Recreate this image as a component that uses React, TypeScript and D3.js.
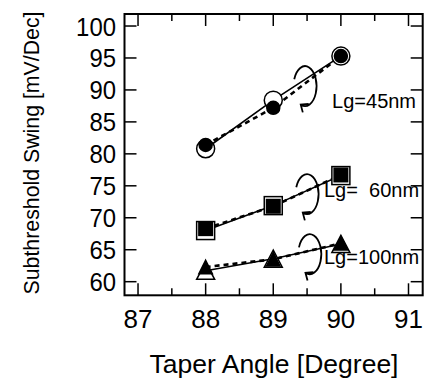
import React, { useEffect, useRef } from "react";
import * as d3 from "d3";

// taper angle [degree]
const angles = [88, 89, 90];

// subthreshold swing [mV/Dec], open = solid line, filled = dashed line
const ss45Open = [80.8, 88.4, 95.3];
const ss45Filled = [81.4, 87.2, 95.3];
const ss60Open = [68.0, 71.9, 76.6];
const ss60Filled = [68.3, 71.8, 76.7];
const ss100Open = [61.7, 63.6, 65.9];
const ss100Filled = [62.3, 63.5, 66.0];

const xTicks = [87, 88, 89, 90, 91];
const xMinorTicks = [87.5, 88.5, 89.5, 90.5];
const yTicks = [60, 65, 70, 75, 80, 85, 90, 95, 100];

const seriesLabels = ["Lg=45nm", "Lg=  60nm", "Lg=100nm"];
const seriesShapes = ["circle", "square", "triangle"];
// where the rotation arrows and labels sit, in data units
const loopAnchors = [
  [89.47, 90.6],
  [89.5, 73.7],
  [89.54, 64.3],
];
const labelAnchors = [
  [89.87, 87.2],
  [89.75, 73.2],
  [89.75, 62.8],
];

const FONT = "'Liberation Sans', Arial, Helvetica, sans-serif";

export default function App() {
  const ref = useRef<SVGSVGElement>(null);

  useEffect(() => {
    const svg = d3.select(ref.current);
    svg.selectAll("*").remove();

    const left = 124.5, right = 422.7, top = 14, bottom = 295.3;
    const x = d3.scaleLinear().domain([86.8, 91.21]).range([left, right]);
    const y = d3.scaleLinear().domain([57.87, 101.88]).range([bottom, top]);

    const g = svg.append("g");

    // frame
    g.append("rect")
      .attr("x", left).attr("y", top)
      .attr("width", right - left).attr("height", bottom - top)
      .attr("fill", "none").attr("stroke", "#000").attr("stroke-width", 2);

    // inward ticks
    const major = 12, minor = 7;
    xTicks.forEach((t) => {
      g.append("line").attr("x1", x(t)).attr("x2", x(t)).attr("y1", bottom).attr("y2", bottom - major)
        .attr("stroke", "#000").attr("stroke-width", 1.5);
      g.append("line").attr("x1", x(t)).attr("x2", x(t)).attr("y1", top).attr("y2", top + major)
        .attr("stroke", "#000").attr("stroke-width", 1.5);
      g.append("text").text(t)
        .attr("x", x(t)).attr("y", 328)
        .attr("text-anchor", "middle")
        .style("font-family", FONT).style("font-size", "26px").attr("fill", "#000");
    });
    xMinorTicks.forEach((t) => {
      g.append("line").attr("x1", x(t)).attr("x2", x(t)).attr("y1", bottom).attr("y2", bottom - minor)
        .attr("stroke", "#000").attr("stroke-width", 1.5);
      g.append("line").attr("x1", x(t)).attr("x2", x(t)).attr("y1", top).attr("y2", top + minor)
        .attr("stroke", "#000").attr("stroke-width", 1.5);
    });
    yTicks.forEach((t) => {
      g.append("line").attr("x1", left).attr("x2", left + major).attr("y1", y(t)).attr("y2", y(t))
        .attr("stroke", "#000").attr("stroke-width", 1.5);
      g.append("line").attr("x1", right).attr("x2", right - major).attr("y1", y(t)).attr("y2", y(t))
        .attr("stroke", "#000").attr("stroke-width", 1.5);
      g.append("text").text(t)
        .attr("transform", `translate(116,${y(t) + 9.5}) scale(0.92,1)`)
        .attr("text-anchor", "end")
        .style("font-family", FONT).style("font-size", "26px").attr("fill", "#000");
    });

    // axis titles
    g.append("text").text("Taper Angle [Degree]")
      .attr("x", 274).attr("y", 373)
      .attr("text-anchor", "middle")
      .style("font-family", FONT).style("font-size", "26.5px").attr("fill", "#000");
    g.append("text").text("Subthreshold Swing [mV/Dec]")
      .attr("transform", "translate(38.5,153) rotate(-90)")
      .attr("text-anchor", "middle")
      .style("font-family", FONT).style("font-size", "21.3px").attr("fill", "#000");

    const groups = [
      { open: ss45Open, filled: ss45Filled },
      { open: ss60Open, filled: ss60Filled },
      { open: ss100Open, filled: ss100Filled },
    ];

    const line = d3.line<[number, number]>().x((d) => x(d[0])).y((d) => y(d[1]));

    const drawMarker = (shape: string, cx: number, cy: number, open: boolean) => {
      const fill = open ? "#fff" : "#000";
      if (shape === "circle") {
        g.append("circle").attr("cx", cx).attr("cy", cy).attr("r", open ? 9 : 6.5)
          .attr("fill", fill).attr("stroke", "#000").attr("stroke-width", 1.5);
      } else if (shape === "square") {
        const s = open ? 18 : 13.5;
        g.append("rect").attr("x", cx - s / 2).attr("y", cy - s / 2).attr("width", s).attr("height", s)
          .attr("fill", fill).attr("stroke", "#000").attr("stroke-width", 1.5);
      } else {
        const w = open ? 18 : 13.5, h = open ? 17 : 13.5;
        g.append("path")
          .attr("d", `M${cx},${cy - h / 2}L${cx + w / 2},${cy + h / 2}L${cx - w / 2},${cy + h / 2}Z`)
          .attr("fill", fill).attr("stroke", "#000").attr("stroke-width", 1.5).attr("stroke-linejoin", "miter");
      }
    };

    groups.forEach((s) => {
      const openPts = angles.map((a, j) => [a, s.open[j]] as [number, number]);
      const filledPts = angles.map((a, j) => [a, s.filled[j]] as [number, number]);
      g.append("path").attr("d", line(openPts)).attr("fill", "none")
        .attr("stroke", "#000").attr("stroke-width", 1.6);
      g.append("path").attr("d", line(filledPts)).attr("fill", "none")
        .attr("stroke", "#000").attr("stroke-width", 2.6).attr("stroke-dasharray", "5,4");
    });

    groups.forEach((s, i) => {
      angles.forEach((a, j) => drawMarker(seriesShapes[i], x(a), y(s.open[j]), true));
      angles.forEach((a, j) => drawMarker(seriesShapes[i], x(a), y(s.filled[j]), false));
    });

    // rotation arrows
    const rx = 11.5, ry = 20;
    const rad = (deg: number) => (deg * Math.PI) / 180;
    loopAnchors.forEach(([ax, ay]) => {
      const cx = x(ax), cy = y(ay);
      const t0 = rad(200), t1 = rad(112);
      const sx = cx + rx * Math.cos(t0), sy = cy + ry * Math.sin(t0);
      const ex = cx + rx * Math.cos(t1), ey = cy + ry * Math.sin(t1);
      // direction of travel at the end point
      let dx = -rx * Math.sin(t1), dy = ry * Math.cos(t1);
      const len = Math.hypot(dx, dy);
      dx /= len; dy /= len;
      const wing = (ang: number) => {
        const c = Math.cos(rad(ang)), sn = Math.sin(rad(ang));
        const bx = -dx * c + dy * sn, by = -dx * sn - dy * c;
        return [ex + 8 * bx, ey + 8 * by];
      };
      const w1 = wing(40), w2 = wing(-40);
      g.append("path")
        .attr("d", `M${sx},${sy}A${rx},${ry} 0 1 1 ${ex},${ey}M${w1[0]},${w1[1]}L${ex},${ey}L${w2[0]},${w2[1]}`)
        .attr("fill", "none").attr("stroke", "#000").attr("stroke-width", 1.8);
    });

    // series labels
    labelAnchors.forEach(([lx, ly], i) => {
      g.append("text").text(seriesLabels[i])
        .attr("x", x(lx)).attr("y", y(ly))
        .style("white-space", "pre")
        .attr("xml:space", "preserve")
        .style("font-family", FONT).style("font-size", "20px").attr("fill", "#000");
    });
  }, []);

  return (
    <svg
      ref={ref}
      width={431}
      height={379}
      style={{ position: "absolute", left: 0, top: 0, background: "#fff" }}
    />
  );
}
